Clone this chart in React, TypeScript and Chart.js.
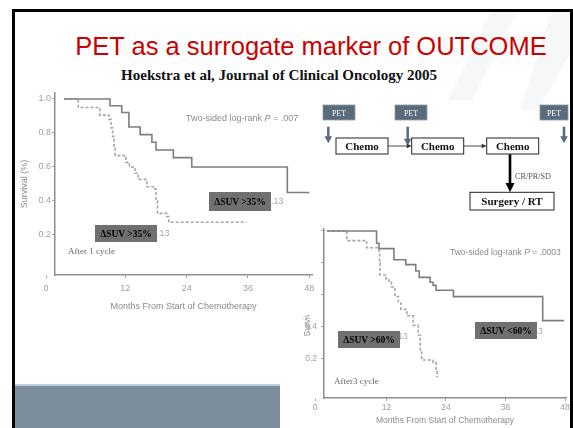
import React, { useEffect, useRef } from "react";
import { Chart, registerables } from "chart.js";

Chart.register(...registerables);

// ---------- data ----------
const monthTicks = [0, 12, 24, 36, 48];
const survivalTicks = [0.2, 0.4, 0.6, 0.8, 1.0];

// After 1 cycle (left panel)
const cycle1SolidMonths = [0, 9.0, 11.3, 12.7, 14.9, 17.2, 18.0, 21.4, 25.0, 43.7, 48];
const cycle1SolidSurv = [1.0, 0.96, 0.92, 0.835, 0.79, 0.745, 0.70, 0.655, 0.60, 0.45, 0.45];
const cycle1DashMonths = [0, 2.8, 7.0, 8.8, 9.2, 9.5, 9.8, 10.0, 12.1, 12.8, 13.9, 14.5, 16.2, 17.8, 18.0, 18.3, 20.1, 20.5, 35.7];
const cycle1DashSurv = [1.0, 0.95, 0.905, 0.88, 0.83, 0.78, 0.72, 0.667, 0.627, 0.60, 0.563, 0.527, 0.484, 0.47, 0.40, 0.327, 0.308, 0.275, 0.275];

// After 3 cycles (right panel)
const cycle3SolidMonths = [0, 10.0, 10.5, 13.5, 15.9, 17.9, 18.6, 20.8, 21.4, 22.0, 25.5, 43.5, 47.8];
const cycle3SolidSurv = [1.0, 0.923, 0.89, 0.82, 0.79, 0.75, 0.71, 0.68, 0.66, 0.63, 0.59, 0.44, 0.44];
const cycle3DashMonths = [0, 4.0, 8.0, 10.5, 10.6, 10.7, 11.9, 12.5, 13.0, 13.7, 14.4, 14.9, 16.1, 17.4, 18.4, 18.8, 19.1, 21.4, 22.0, 22.2, 22.4];
const cycle3DashSurv = [1.0, 0.94, 0.895, 0.86, 0.80, 0.725, 0.70, 0.68, 0.65, 0.59, 0.55, 0.51, 0.47, 0.41, 0.35, 0.256, 0.194, 0.18, 0.13, 0.09, 0.09];

const SANS = '"Liberation Sans", Arial, sans-serif';
const SERIF = '"Liberation Serif", "Times New Roman", serif';

type KMProps = {
  width: number;
  height: number;
  yAxisWidth: number;
  xAxisHeight: number;
  padTop: number;
  padRight: number;
  xMin: number;
  xMax: number;
  yMin: number;
  yMax: number;
  zeroShift: number;
  tickSize: number;
  xTickPad: number;
  yTickPad: number;
  xTitlePad: number;
  yTitlePad: number;
  solidX: number[];
  solidY: number[];
  dashX: number[];
  dashY: number[];
};

function KMChart(p: KMProps) {
  const ref = useRef<HTMLCanvasElement>(null);
  useEffect(() => {
    const toPts = (xs: number[], ys: number[]) => xs.map((x, i) => ({ x, y: ys[i] }));
    const chart = new Chart(ref.current as HTMLCanvasElement, {
      type: "line",
      data: {
        datasets: [
          {
            data: toPts(p.solidX, p.solidY),
            borderColor: "#7e7e7e",
            borderWidth: 1.6,
            stepped: true,
            pointRadius: 0,
            fill: false,
          },
          {
            data: toPts(p.dashX, p.dashY),
            borderColor: "#a6a6a6",
            borderWidth: 1.6,
            borderDash: [3, 2],
            stepped: true,
            pointRadius: 0,
            fill: false,
          },
        ],
      },
      options: {
        animation: false,
        responsive: false,
        events: [],
        layout: { padding: { top: p.padTop, right: p.padRight, left: 0, bottom: 0 } },
        plugins: { legend: { display: false }, tooltip: { enabled: false } },
        scales: {
          x: {
            type: "linear",
            min: p.xMin,
            max: p.xMax,
            afterBuildTicks: (s: any) => {
              s.ticks = monthTicks.map((v) => ({ value: v === 0 ? p.zeroShift : v }));
            },
            afterFit: (s: any) => {
              s.height = p.xAxisHeight;
              s.paddingLeft = 0;
              s.paddingRight = 0;
            },
            ticks: {
              autoSkip: false,
              maxRotation: 0,
              padding: p.xTickPad,
              color: "#a0a0a0",
              font: { family: SANS, size: p.tickSize },
              callback: (_v: any, i: number) => String(monthTicks[i]),
            },
            grid: { display: true, drawOnChartArea: false, drawTicks: true, tickLength: 3, color: "#a0a0a0" },
            border: { display: true, color: "#8e8e8e", width: 1.5 },
            title: {
              display: true,
              text: "Months From Start of Chemotherapy",
              color: "#8a8a8a",
              font: { family: SANS, size: p.tickSize },
              padding: { top: 0, bottom: p.xTitlePad },
            },
          },
          y: {
            type: "linear",
            min: p.yMin,
            max: p.yMax,
            afterBuildTicks: (s: any) => {
              s.ticks = survivalTicks.map((v) => ({ value: v }));
            },
            afterFit: (s: any) => {
              s.width = p.yAxisWidth;
              s.paddingTop = 0;
              s.paddingBottom = 0;
            },
            ticks: {
              autoSkip: false,
              padding: p.yTickPad,
              color: "#a0a0a0",
              font: { family: SANS, size: p.tickSize },
              callback: (v: any) => Number(v).toFixed(1),
            },
            grid: { display: true, drawOnChartArea: false, drawTicks: true, tickLength: 3, color: "#a0a0a0" },
            border: { display: true, color: "#8e8e8e", width: 1.5 },
            title: {
              display: true,
              text: "Survival (%)",
              color: "#8a8a8a",
              font: { family: SANS, size: p.tickSize },
              padding: { top: p.yTitlePad, bottom: 0 },
            },
          },
        },
      } as any,
    });
    return () => chart.destroy();
  }, []);
  return (
    <canvas
      ref={ref}
      width={p.width}
      height={p.height}
      style={{ position: "absolute", left: 0, top: 0, width: p.width, height: p.height }}
    />
  );
}

const LabelBox = ({ x, y, w, h, text }: { x: number; y: number; w: number; h: number; text: string }) => (
  <div
    style={{
      position: "absolute",
      left: x,
      top: y,
      width: w,
      height: h,
      background: "#707070",
      color: "#000",
      font: `bold 9.5px ${SERIF}`,
      display: "flex",
      alignItems: "center",
      justifyContent: "center",
      whiteSpace: "nowrap",
    }}
  >
    {text}
  </div>
);

const Txt = ({ x, y, size, color, family, children, weight }: any) => (
  <div
    style={{
      position: "absolute",
      left: x,
      top: y,
      fontSize: size,
      lineHeight: `${size + 2}px`,
      color,
      fontFamily: family,
      fontWeight: weight || "normal",
      whiteSpace: "nowrap",
    }}
  >
    {children}
  </div>
);

function Flowchart() {
  const slate = "#5a6b7c";
  const pets = [
    { x: 323, w: 32 },
    { x: 395, w: 32 },
    { x: 540, w: 28 },
  ];
  const petArrows = [
    { x: 328.3, y1: 126.7, y2: 143.3 },
    { x: 407.7, y1: 126.7, y2: 145.7 },
    { x: 564, y1: 126.7, y2: 143.3 },
  ];
  const chemo = [336, 411.7, 486.7];
  return (
    <svg
      width={573}
      height={428}
      style={{ position: "absolute", left: 0, top: 0, zIndex: 3, pointerEvents: "none" }}
    >
      {pets.map((b, i) => (
        <g key={"p" + i}>
          <rect x={b.x} y={105} width={b.w} height={15} fill={slate} stroke="#8a98a6" strokeWidth={0.8} />
          <text x={b.x + b.w / 2} y={115.5} fill="#fff" fontSize={8} fontFamily={SERIF} textAnchor="middle">
            PET
          </text>
        </g>
      ))}
      {chemo.map((x, i) => (
        <g key={"c" + i}>
          <rect x={x} y={138} width={52} height={16} fill="#fff" stroke="#222" strokeWidth={1} />
          <text x={x + 26} y={150} fill="#111" fontSize={11} fontWeight="bold" fontFamily={SERIF} textAnchor="middle">
            Chemo
          </text>
        </g>
      ))}
      {petArrows.map((a, i) => (
        <g key={"a" + i}>
          <line x1={a.x} y1={a.y1} x2={a.x} y2={a.y2 - 6} stroke={slate} strokeWidth={2.5} />
          <polygon points={`${a.x - 3.8},${a.y2 - 7} ${a.x + 3.8},${a.y2 - 7} ${a.x},${a.y2}`} fill={slate} />
        </g>
      ))}
      {[
        [388, 411.7],
        [463.7, 486.7],
      ].map(([x1, x2], i) => (
        <g key={"t" + i}>
          <line x1={x1} y1={146} x2={x2 - 4} y2={146} stroke="#333" strokeWidth={0.9} />
          <polygon points={`${x2 - 5},${143.8} ${x2 - 5},${148.2} ${x2},${146}`} fill="#333" />
        </g>
      ))}
      <line x1={510} y1={154.3} x2={510} y2={184} stroke="#000" strokeWidth={2.6} />
      <polygon points={`505.5,183 514.5,183 510,192.3`} fill="#000" />
      <text x={515} y={179} fill="#555" fontSize={8.2} fontFamily={SERIF}>
        CR/PR/SD
      </text>
      <rect x={470} y={192.3} width={84} height={17.7} fill="#fff" stroke="#222" strokeWidth={1} />
      <text x={512} y={205} fill="#111" fontSize={11} fontWeight="bold" fontFamily={SERIF} textAnchor="middle">
        Surgery / RT
      </text>
    </svg>
  );
}

export default function App() {
  return (
    <div
      style={{
        position: "absolute",
        left: 0,
        top: 0,
        width: 573,
        height: 428,
        overflow: "hidden",
        background: "#fff",
      }}
    >
      {/* faint background stripes */}
      <svg width={573} height={428} style={{ position: "absolute", left: 0, top: 0 }}>
        <polygon points="492,10 518,10 472,100 448,100" fill="#f6f7f8" />
        <polygon points="552,10 572,10 572,50 538,110 520,110" fill="#f6f7f8" />
      </svg>

      {/* title */}
      <div
        style={{
          position: "absolute",
          left: 11,
          width: 600,
          top: 31,
          textAlign: "center",
          color: "#cc0000",
          fontFamily: SANS,
          fontSize: 25.5,
          lineHeight: "30px",
          whiteSpace: "nowrap",
        }}
      >
        PET as a surrogate marker of OUTCOME
      </div>
      <div
        style={{
          position: "absolute",
          left: 29,
          width: 500,
          top: 65.5,
          textAlign: "center",
          color: "#111",
          fontFamily: SERIF,
          fontWeight: "bold",
          fontSize: 15,
          lineHeight: "18px",
          whiteSpace: "nowrap",
        }}
      >
        Hoekstra et al, Journal of Clinical Oncology 2005
      </div>

      {/* right panel: after 3 cycles */}
      <div style={{ position: "absolute", left: 303, top: 222, width: 270, height: 206, background: "#fff", zIndex: 1 }}>
        <KMChart
          width={270}
          height={206}
          yAxisWidth={21}
          xAxisHeight={30}
          padTop={7}
          padRight={7}
          xMin={-0.6}
          xMax={48.2}
          yMin={-0.044}
          yMax={1.0125}
          zeroShift={-2.4}
          tickSize={8.5}
          xTickPad={2}
          yTickPad={4}
          xTitlePad={2}
          yTitlePad={0}
          solidX={cycle3SolidMonths}
          solidY={cycle3SolidSurv}
          dashX={cycle3DashMonths}
          dashY={cycle3DashSurv}
        />
        <Txt x={147} y={25} size={8.5} color="#8a8a8a" family={SANS}>
          Two-sided log-rank <i>P</i> = .0003
        </Txt>
        <Txt x={228} y={104} size={8.5} color="#a8a8a8" family={SANS}>
          .13
        </Txt>
        <LabelBox x={172} y={100} w={62} h={17} text="ΔSUV <60%" />
        <Txt x={93} y={109} size={8.5} color="#a8a8a8" family={SANS}>
          .13
        </Txt>
        <LabelBox x={35} y={109} w={62} h={17} text="ΔSUV >60%" />
        <Txt x={31} y={154} size={9} color="#666" family={SERIF}>
          After3 cycle
        </Txt>
      </div>

      {/* left panel: after 1 cycle */}
      <div style={{ position: "absolute", left: 14, top: 88, width: 304, height: 227, background: "#fff", zIndex: 2 }}>
        <KMChart
          width={304}
          height={227}
          yAxisWidth={41}
          xAxisHeight={40}
          padTop={5}
          padRight={6}
          xMin={-1.76}
          xMax={48.53}
          yMin={-0.0353}
          yMax={1.035}
          zeroShift={-3.5}
          tickSize={9}
          xTickPad={5}
          yTickPad={1}
          xTitlePad={3}
          yTitlePad={5}
          solidX={cycle1SolidMonths}
          solidY={cycle1SolidSurv}
          dashX={cycle1DashMonths}
          dashY={cycle1DashSurv}
        />
        <Txt x={172} y={25} size={9} color="#8a8a8a" family={SANS}>
          Two-sided log-rank <i>P</i> = .007
        </Txt>
        <Txt x={257} y={108} size={9} color="#a8a8a8" family={SANS}>
          .13
        </Txt>
        <LabelBox x={195} y={104} w={62} h={19} text="ΔSUV >35%" />
        <Txt x={143} y={140} size={9} color="#a8a8a8" family={SANS}>
          .13
        </Txt>
        <LabelBox x={81} y={137} w={62} h={17} text="ΔSUV >35%" />
        <Txt x={54} y={158} size={9} color="#666" family={SERIF}>
          After 1 cycle
        </Txt>
      </div>

      <Flowchart />

      {/* bottom band */}
      <div style={{ position: "absolute", left: 14, top: 384, width: 266, height: 2, background: "#c3d0db", zIndex: 3 }} />
      <div style={{ position: "absolute", left: 14, top: 386, width: 266, height: 42, background: "#7b8d9d", zIndex: 3 }} />

      {/* frame */}
      <div style={{ position: "absolute", left: 12, top: 9, width: 561, height: 2.5, background: "#000", zIndex: 4 }} />
      <div style={{ position: "absolute", left: 12, top: 9, width: 2.5, height: 419, background: "#000", zIndex: 4 }} />
      <div style={{ position: "absolute", left: 570, top: 9, width: 2.5, height: 419, background: "#000", zIndex: 4 }} />
    </div>
  );
}
